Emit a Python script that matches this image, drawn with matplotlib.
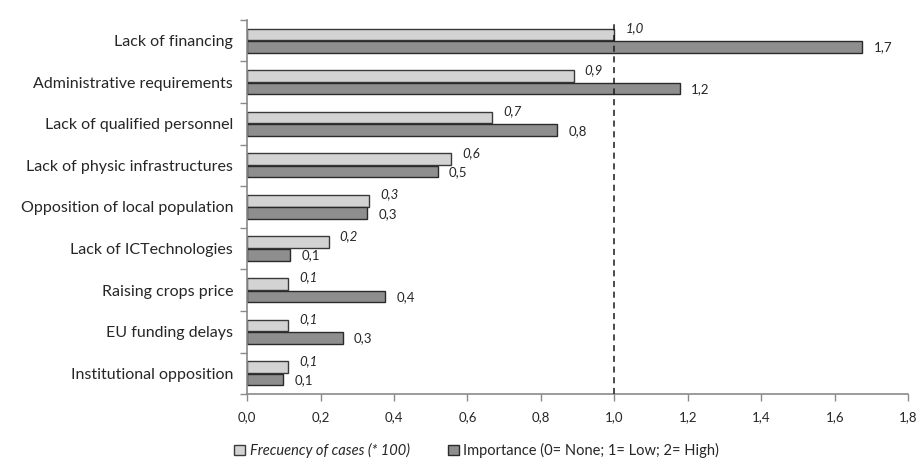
import matplotlib
matplotlib.use("Agg")
import matplotlib.pyplot as plt
import numpy as np

categories = [
    "Lack of financing",
    "Administrative requirements",
    "Lack of qualified personnel",
    "Lack of physic infrastructures",
    "Opposition of local population",
    "Lack of ICTechnologies",
    "Raising crops price",
    "EU funding delays",
    "Institutional opposition",
]
frequency = [1.000, 0.889, 0.667, 0.556, 0.333, 0.222, 0.111, 0.111, 0.111]
importance = [1.675, 1.179, 0.845, 0.519, 0.327, 0.118, 0.376, 0.260, 0.099]
x_ticks = [0.0, 0.2, 0.4, 0.6, 0.8, 1.0, 1.2, 1.4, 1.6, 1.8]
freq_label = "Frecuency of cases (* 100)"
imp_label = "Importance (0= None; 1= Low; 2= High)"
reference_line = 1.0

plt.rcParams["font.family"] = ["Lato", "DejaVu Sans"]
text_color = "#262626"
axis_color = "#8a8a8a"

fig = plt.figure(figsize=(9.22, 4.62), dpi=100)
ax = fig.add_axes([0.268, 0.147, 0.717, 0.810])

y = np.arange(len(categories))
h = 0.28
off = 0.15

b1 = ax.barh(y - off, frequency, height=h, color="#d3d3d3",
             edgecolor="#3a3a3a", linewidth=1.0, label=freq_label, zorder=2)
b2 = ax.barh(y + off, importance, height=h, color="#8e8e8e",
             edgecolor="#2a2a2a", linewidth=1.0, label=imp_label, zorder=2)

def fmt(v):
    return f"{v:.1f}".replace(".", ",")

for yi, v in zip(y, frequency):
    ax.annotate(fmt(v), (v, yi - off), xytext=(8, 4.5), textcoords="offset points",
                ha="left", va="center", fontsize=9.5, style="italic", color=text_color)
for yi, v in zip(y, importance):
    ax.annotate(fmt(v), (v, yi + off), xytext=(8, -0.5), textcoords="offset points",
                ha="left", va="center", fontsize=9.5, color=text_color)

ax.axvline(reference_line, color="#1a1a1a", linestyle=(0, (4, 3)), linewidth=1.1, zorder=3)

ax.set_xlim(0, 1.8)
ax.set_ylim(len(categories) - 0.5, -0.5)
ax.set_xticks(x_ticks)
ax.set_xticklabels([fmt(t) for t in x_ticks], fontsize=9.5, color=text_color)
ax.set_yticks(y)
ax.set_yticklabels(categories, fontsize=11.5, color=text_color)
ax.set_yticks(np.arange(-0.5, len(categories)), minor=True)
ax.tick_params(axis="y", which="major", length=0, pad=10)
ax.tick_params(axis="y", which="minor", length=5, color=axis_color, width=1)
ax.tick_params(axis="x", length=5, color=axis_color, width=1, pad=7)

for s in ["top", "right"]:
    ax.spines[s].set_visible(False)
for s in ["left", "bottom"]:
    ax.spines[s].set_color(axis_color)
    ax.spines[s].set_linewidth(1.2)

leg = fig.legend(handles=[b1, b2], loc="lower left", bbox_to_anchor=(0.240, -0.02),
                 ncol=2, frameon=False, fontsize=10.5, handlelength=0.75,
                 handleheight=0.75, handletextpad=0.3, columnspacing=2.6)
texts = leg.get_texts()
texts[0].set_style("italic")
for t in texts:
    t.set_color(text_color)

fig.savefig("out.png", dpi=100)
